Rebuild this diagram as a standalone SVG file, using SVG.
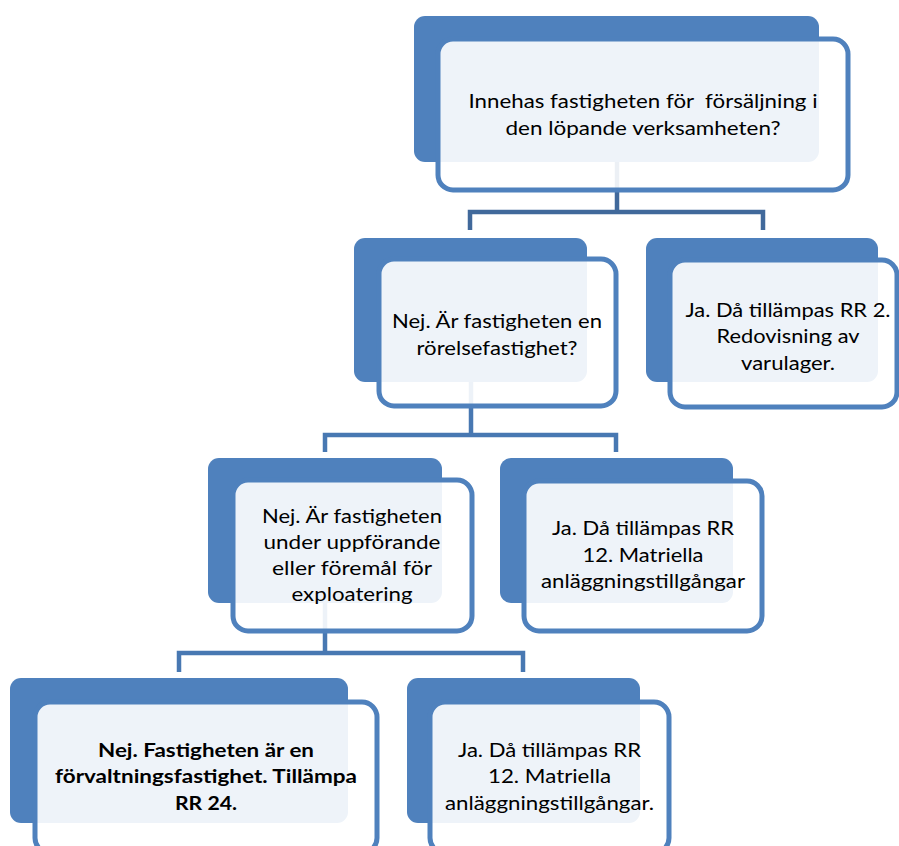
<svg xmlns="http://www.w3.org/2000/svg" width="899" height="846" viewBox="0 0 899 846">
<style>
.back{fill:#4F81BD;}
.front{fill:#FFFFFF;fill-opacity:0.9;stroke:#4F81BD;stroke-width:5;}
.conn{fill:none;stroke-width:4.5;stroke-linejoin:miter;stroke-linecap:butt;}
.c1{stroke:#41699B;}
.c2{stroke:#4878B2;}
.t{font-family:Lato,"Open Sans","Liberation Sans",sans-serif;font-size:18.5px;fill:#000000;text-anchor:middle;}
.b{font-weight:bold;}
</style>
<rect width="899" height="846" fill="#FFFFFF"/>
<g id="connectors">
<path class="conn c1" d="M617,162 V212 M470,230 V212 H763 V230"/>
<path class="conn c2" d="M471,382 V435 M325,452 V435 H616 V452"/>
<path class="conn c2" d="M325,603 V653 M179,672 V653 H523 V672"/>
</g>
<g id="n1">
<rect class="back" x="414" y="16" width="405" height="146" rx="11"/>
<rect class="front" x="438" y="39" width="410" height="151" rx="15"/>
<text class="t" x="643" y="108" xml:space="preserve" textLength="349" lengthAdjust="spacingAndGlyphs">Innehas fastigheten för  försäljning i</text>
<text class="t" x="643" y="135" textLength="275" lengthAdjust="spacingAndGlyphs">den löpande verksamheten?</text>
</g>
<g id="n2">
<rect class="back" x="354" y="238" width="233" height="144" rx="11"/>
<rect class="front" x="379" y="259" width="237" height="147" rx="15"/>
<text class="t" x="497" y="328" textLength="210" lengthAdjust="spacingAndGlyphs">Nej. Är fastigheten en</text>
<text class="t" x="497" y="355" textLength="161" lengthAdjust="spacingAndGlyphs">rörelsefastighet?</text>
</g>
<g id="n3">
<rect class="back" x="646" y="238" width="232" height="144" rx="11"/>
<rect class="front" x="670" y="260" width="227" height="147" rx="15"/>
<text class="t" x="788" y="317" textLength="205" lengthAdjust="spacingAndGlyphs">Ja. Då tillämpas RR 2.</text>
<text class="t" x="788" y="343" textLength="143" lengthAdjust="spacingAndGlyphs">Redovisning av</text>
<text class="t" x="788" y="370" textLength="94" lengthAdjust="spacingAndGlyphs">varulager.</text>
</g>
<g id="n4">
<rect class="back" x="208" y="458" width="234" height="145" rx="11"/>
<rect class="front" x="233" y="480" width="239" height="151" rx="15"/>
<text class="t" x="352" y="523" textLength="180" lengthAdjust="spacingAndGlyphs">Nej. Är fastigheten</text>
<text class="t" x="352" y="549" textLength="177" lengthAdjust="spacingAndGlyphs">under uppförande</text>
<text class="t" x="352" y="575" textLength="160" lengthAdjust="spacingAndGlyphs">eller föremål för</text>
<text class="t" x="352" y="601" textLength="121" lengthAdjust="spacingAndGlyphs">exploatering</text>
</g>
<g id="n5">
<rect class="back" x="500" y="458" width="233" height="145" rx="11"/>
<rect class="front" x="524" y="481" width="238" height="150" rx="15"/>
<text class="t" x="643" y="535" textLength="182" lengthAdjust="spacingAndGlyphs">Ja. Då tillämpas RR</text>
<text class="t" x="643" y="562" textLength="121" lengthAdjust="spacingAndGlyphs">12. Matriella</text>
<text class="t" x="643" y="588" textLength="204" lengthAdjust="spacingAndGlyphs">anläggningstillgångar</text>
</g>
<g id="n6">
<rect class="back" x="10" y="678" width="338" height="145" rx="11"/>
<rect class="front" x="35" y="702" width="342" height="151" rx="15"/>
<text class="t b" x="206" y="757" textLength="216" lengthAdjust="spacingAndGlyphs">Nej. Fastigheten är en</text>
<text class="t b" x="206" y="783" textLength="302" lengthAdjust="spacingAndGlyphs">förvaltningsfastighet. Tillämpa</text>
<text class="t b" x="206" y="810" textLength="62" lengthAdjust="spacingAndGlyphs">RR 24.</text>
</g>
<g id="n7">
<rect class="back" x="407" y="678" width="233" height="145" rx="11"/>
<rect class="front" x="430" y="702" width="239" height="151" rx="15"/>
<text class="t" x="549.5" y="757" textLength="183" lengthAdjust="spacingAndGlyphs">Ja. Då tillämpas RR</text>
<text class="t" x="549.5" y="783" textLength="123" lengthAdjust="spacingAndGlyphs">12. Matriella</text>
<text class="t" x="549.5" y="810" textLength="209" lengthAdjust="spacingAndGlyphs">anläggningstillgångar.</text>
</g>
</svg>
